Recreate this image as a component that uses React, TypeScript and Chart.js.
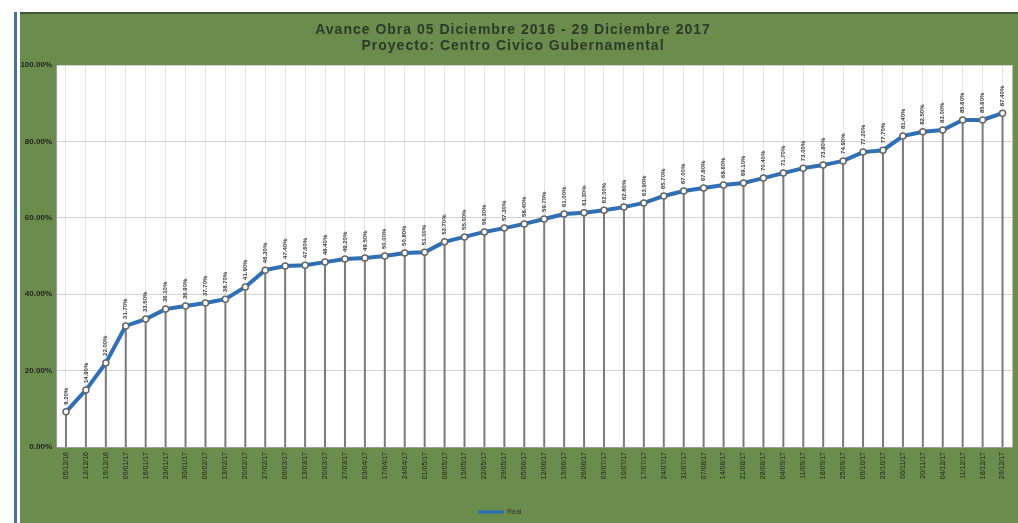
import React, { useEffect, useRef } from 'react';
import { Chart, registerables } from 'chart.js';
Chart.register(...registerables);

const categories = [
  '05/12/16', '12/12/16', '19/12/16', '09/01/17', '16/01/17', '23/01/17', '30/01/17', '06/02/17',
  '13/02/17', '20/02/17', '27/02/17', '06/03/17', '13/03/17', '20/03/17', '27/03/17', '03/04/17',
  '17/04/17', '24/04/17', '01/05/17', '08/05/17', '15/05/17', '22/05/17', '29/05/17', '05/06/17',
  '12/06/17', '19/06/17', '26/06/17', '03/07/17', '10/07/17', '17/07/17', '24/07/17', '31/07/17',
  '07/08/17', '14/08/17', '21/08/17', '28/08/17', '04/09/17', '11/09/17', '18/09/17', '25/09/17',
  '09/10/17', '23/10/17', '06/11/17', '20/11/17', '04/12/17', '11/12/17', '18/12/17', '29/12/17',
];

const avance = [
  9.2, 14.9, 22.0, 31.7, 33.5, 36.1, 36.9, 37.7, 38.7, 41.9,
  46.3, 47.4, 47.6, 48.4, 49.2, 49.5, 50.0, 50.8, 51.0, 53.7,
  55.0, 56.3, 57.3, 58.4, 59.7, 61.0, 61.3, 62.0, 62.8, 63.9,
  65.7, 67.0, 67.8, 68.6, 69.1, 70.4, 71.7, 73.0, 73.8, 74.9,
  77.2, 77.7, 81.4, 82.5, 83.0, 85.6, 85.6, 87.4,
];

const yMin = 0;
const yMax = 100;
const yStep = 20;

const titleLines = [
  'Avance Obra 05 Diciembre 2016 - 29 Diciembre 2017',
  'Proyecto: Centro Civico Gubernamental',
];
const seriesName = 'Real';

const GREEN = '#6a8c4d';
const LINE_BLUE = '#2f6fb5';
const FONT = "'Liberation Sans', Arial, sans-serif";

export default function App() {
  const ref = useRef<HTMLCanvasElement>(null);

  useEffect(() => {
    document.body.style.margin = '0';
    const canvas = ref.current!;

    const bgPlugin = {
      id: 'bgPlugin',
      beforeDraw(chart: any) {
        const { ctx, chartArea } = chart;
        ctx.save();
        ctx.fillStyle = '#ffffff';
        ctx.fillRect(0, 0, chart.width, chart.height);
        ctx.fillStyle = GREEN;
        ctx.fillRect(20, 12, chart.width - 20, chart.height - 12);
        ctx.fillStyle = '#4a7590';
        ctx.fillRect(14, 12, 3, chart.height - 12);
        ctx.fillStyle = '#3d5a30';
        ctx.fillRect(20, 12, chart.width - 20, 2);
        ctx.fillStyle = '#ffffff';
        ctx.fillRect(chartArea.left, chartArea.top, chartArea.right - chartArea.left, chartArea.bottom - chartArea.top);
        ctx.restore();
      },
    };

    const dropLinesPlugin = {
      id: 'dropLines',
      beforeDatasetsDraw(chart: any) {
        const { ctx, chartArea } = chart;
        const meta = chart.getDatasetMeta(0);
        ctx.save();
        ctx.strokeStyle = '#7a7a7a';
        ctx.lineWidth = 2;
        meta.data.forEach((pt: any) => {
          ctx.beginPath();
          ctx.moveTo(pt.x, pt.y);
          ctx.lineTo(pt.x, chartArea.bottom);
          ctx.stroke();
        });
        ctx.restore();
      },
      afterDatasetsDraw(chart: any) {
        const { ctx } = chart;
        const meta = chart.getDatasetMeta(0);
        const data = chart.data.datasets[0].data as number[];
        ctx.save();
        ctx.fillStyle = '#3a3a3a';
        ctx.font = `bold 6px ${FONT}`;
        ctx.textAlign = 'left';
        ctx.textBaseline = 'middle';
        meta.data.forEach((pt: any, i: number) => {
          ctx.save();
          ctx.translate(pt.x, pt.y - 7);
          ctx.rotate(-Math.PI / 2);
          ctx.fillText(data[i].toFixed(2) + '%', 0, 0);
          ctx.restore();
        });
        ctx.restore();
      },
    };

    const decorPlugin = {
      id: 'decor',
      afterDraw(chart: any) {
        const { ctx } = chart;
        ctx.save();
        ctx.fillStyle = '#2e3a28';
        ctx.font = `bold 14px ${FONT}`;
        (ctx as any).letterSpacing = '1px';
        ctx.textAlign = 'center';
        ctx.textBaseline = 'middle';
        ctx.fillText(titleLines[0], 513, 30);
        ctx.fillText(titleLines[1], 513, 46);
        (ctx as any).letterSpacing = '0px';
        // legend
        ctx.strokeStyle = LINE_BLUE;
        ctx.lineWidth = 3;
        ctx.beginPath();
        ctx.moveTo(478, 512);
        ctx.lineTo(504, 512);
        ctx.stroke();
        ctx.fillStyle = '#333333';
        ctx.font = `7px ${FONT}`;
        ctx.textAlign = 'left';
        ctx.fillText(seriesName, 507, 512);
        ctx.restore();
      },
    };

    const chart = new Chart(canvas, {
      type: 'line',
      data: {
        labels: categories,
        datasets: [
          {
            label: seriesName,
            data: avance,
            borderColor: LINE_BLUE,
            borderWidth: 4,
            pointRadius: 3,
            pointBackgroundColor: '#ffffff',
            pointBorderColor: '#666666',
            pointBorderWidth: 1.5,
            tension: 0,
          },
        ],
      },
      options: {
        responsive: false,
        animation: false,
        devicePixelRatio: 1,
        layout: { padding: { left: 0, right: 5, top: 65, bottom: 36 } },
        plugins: {
          legend: { display: false },
          title: { display: false },
          tooltip: { enabled: false },
        },
        scales: {
          x: {
            offset: true,
            grid: { color: 'rgba(0,0,0,0.10)', drawTicks: false },
            border: { color: '#9a9a9a' },
            ticks: {
              autoSkip: false,
              minRotation: 90,
              maxRotation: 90,
              padding: 5,
              color: '#222222',
              font: { size: 7, family: FONT },
            },
            afterFit(s: any) {
              s.height = 40;
            },
          },
          y: {
            min: yMin,
            max: yMax,
            grid: { color: '#d2d2d2', drawTicks: false },
            border: { color: '#9a9a9a' },
            ticks: {
              stepSize: yStep,
              padding: 4,
              color: '#222222',
              font: { size: 8, weight: 'bold', family: FONT },
              callback: (v: any) => Number(v).toFixed(2) + '%',
            },
            afterFit(s: any) {
              s.width = 56;
            },
          },
        },
      },
      plugins: [bgPlugin, dropLinesPlugin, decorPlugin],
    });

    return () => chart.destroy();
  }, []);

  return <canvas ref={ref} width={1018} height={523} style={{ display: 'block' }} />;
}
